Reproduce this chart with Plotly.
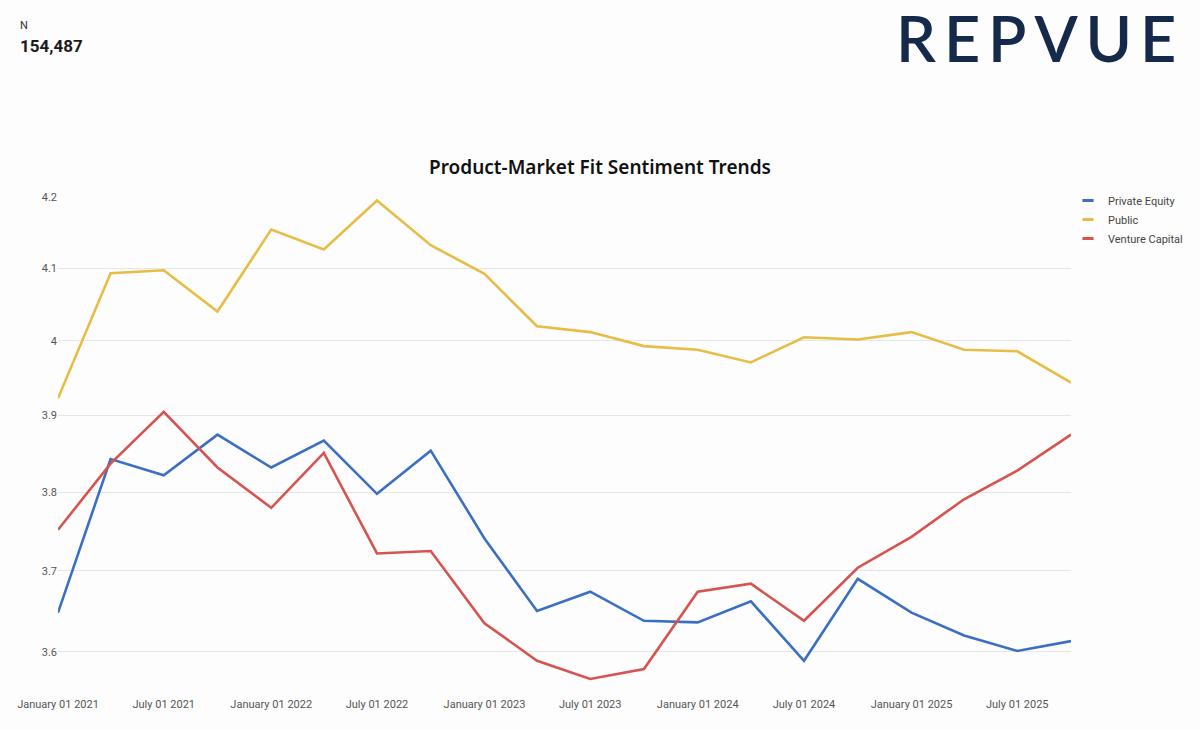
import numpy as np
import plotly.graph_objects as go

# Quarterly points, Jan 2021 - Oct 2025
fechas = ['2021-01-01', '2021-04-01', '2021-07-01', '2021-10-01',
          '2022-01-01', '2022-04-01', '2022-07-01', '2022-10-01',
          '2023-01-01', '2023-04-01', '2023-07-01', '2023-10-01',
          '2024-01-01', '2024-04-01', '2024-07-01', '2024-10-01',
          '2025-01-01', '2025-04-01', '2025-07-01', '2025-10-01']

private_equity = [3.648, 3.843, 3.822, 3.875, 3.832, 3.867, 3.798, 3.854,
                  3.741, 3.650, 3.674, 3.638, 3.636, 3.662, 3.589, 3.690,
                  3.648, 3.620, 3.601, 3.613]
public = [3.923, 4.093, 4.097, 4.040, 4.154, 4.126, 4.195, 4.132,
          4.092, 4.020, 4.012, 3.993, 3.988, 3.971, 4.005, 4.002,
          4.012, 3.988, 3.986, 3.944]
venture_capital = [3.752, 3.837, 3.905, 3.832, 3.780, 3.851, 3.722, 3.725,
                   3.635, 3.589, 3.567, 3.579, 3.674, 3.684, 3.638, 3.704,
                   3.743, 3.791, 3.828, 3.875]

series = ['Private Equity', 'Public', 'Venture Capital']
valores = [private_equity, public, venture_capital]
colores = ['#3b6fc4', '#e8bd45', '#d6534f']

y_ticks = [3.6, 3.7, 3.8, 3.9, 4.0, 4.1, 4.2]
y_tick_text = ['3.6', '3.7', '3.8', '3.9', '4', '4.1', '4.2']
x_ticks = ['2021-01-01', '2021-07-01', '2022-01-01', '2022-07-01', '2023-01-01',
           '2023-07-01', '2024-01-01', '2024-07-01', '2025-01-01', '2025-07-01']

total_n = '154,487'

fig = go.Figure()

# Lineas principales
for nombre, vals, color in zip(series, valores, colores):
    fig.add_trace(go.Scatter(
        x=fechas, y=vals, name=nombre, mode='lines',
        line=dict(color=color, width=2.6),
        showlegend=False,
    ))

# Entradas de leyenda con un guion corto
for nombre, color in zip(series, colores):
    fig.add_trace(go.Scatter(
        x=[None], y=[None], name=nombre, mode='markers',
        marker=dict(symbol='line-ew', size=8, line=dict(color=color, width=3)),
    ))

fig.update_layout(
    width=1200, height=729,
    paper_bgcolor='#fdfdfd', plot_bgcolor='#fdfdfd',
    margin=dict(l=58, r=129, t=197, b=36, autoexpand=False),
    font=dict(family='Roboto', size=11, color='#555555'),
    title=dict(text='Product-Market Fit Sentiment Trends', x=0.5, xref='container',
               xanchor='center', y=1 - 167 / 729, yref='container', yanchor='middle',
               font=dict(family='Noto Sans', size=19, color='#111111', weight=600)),
    legend=dict(x=1068 / 1200, y=1 - 186 / 729, xref='container', yref='container',
                xanchor='left', yanchor='top',
                font=dict(family='Roboto', size=11, color='#444444'),
                itemwidth=30, tracegroupgap=0, bgcolor='rgba(0,0,0,0)'),
    showlegend=True,
)
fig.update_xaxes(
    type='date', range=[fechas[0], fechas[-1]],
    tickvals=x_ticks, tickformat='%B %d %Y',
    showgrid=False, zeroline=False, showline=False, ticks='',
    ticklabelstandoff=3, automargin=False,
    tickfont=dict(size=11, color='#555555'),
)
fig.update_yaxes(
    type='log', range=[np.log10(3.55), np.log10(4.2)],
    tickvals=y_ticks, ticktext=y_tick_text,
    showgrid=True, gridcolor='#e6e6e6', gridwidth=1,
    zeroline=False, showline=False, ticks='', automargin=False,
    tickfont=dict(size=11, color='#555555'),
)

# N en la esquina superior izquierda
fig.add_annotation(text='N', xref='paper', yref='paper', x=-0.039, y=1.346,
                   xanchor='left', yanchor='middle', showarrow=False,
                   font=dict(family='Roboto', size=11, color='#333333'))
fig.add_annotation(text='<b>' + total_n + '</b>', xref='paper', yref='paper',
                   x=-0.039, y=1.305, xanchor='left', yanchor='middle', showarrow=False,
                   font=dict(family='Roboto', size=17, color='#1a1a1a'))

# Logo
fig.add_annotation(text='R\u2009E\u2009P\u2009V\u2009U\u2009E', xref='paper', yref='paper',
                   x=1.1056, y=1.3206, xanchor='right', yanchor='middle', showarrow=False,
                   font=dict(family='Lato', size=63, color='#15294a', weight=600))

# quitar el margen de 8px del body para que la figura llene la ventana
fig.write_html('out.html', config={'displayModeBar': False},
               post_script="document.body.style.margin='0';")
